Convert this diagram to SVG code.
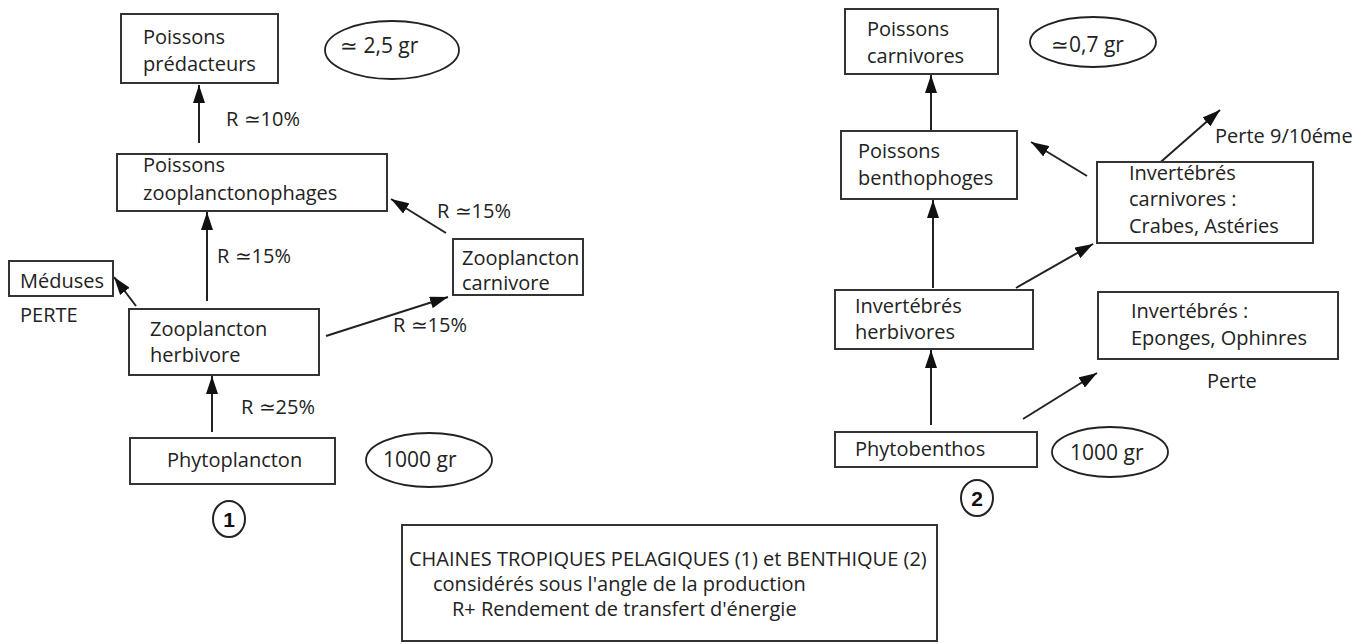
<svg xmlns="http://www.w3.org/2000/svg" width="1354" height="644" viewBox="0 0 1354 644">
<defs>
<style>
.box{fill:#fff;stroke:#333;stroke-width:2}
.ell{fill:#fff;stroke:#222;stroke-width:1.8}
.t{font-family:"Open Sans","Liberation Sans",sans-serif;font-size:20px;fill:#222}
.te{font-family:"Open Sans","Liberation Sans",sans-serif;font-size:21px;fill:#222}
.num{font-family:"Liberation Sans",Arial,sans-serif;font-size:21px;font-weight:bold;fill:#111}
.c{fill:none;stroke:#222;stroke-width:2}
.cl line{stroke:#222;stroke-width:2;marker-end:url(#ah)}
</style>
<marker id="ah" viewBox="0 0 18 12" refX="18" refY="6" markerWidth="18" markerHeight="12" markerUnits="userSpaceOnUse" orient="auto">
<path d="M0,0 L18,6 L0,12 z" fill="#111"/>
</marker>
</defs>
<rect width="1354" height="644" fill="#fff"/>

<g id="connectors" class="cl">
<line x1="199" y1="143" x2="199" y2="85"/>
<line x1="207" y1="301" x2="207" y2="212"/>
<line x1="212" y1="432" x2="212" y2="376"/>
<line x1="136" y1="306" x2="114" y2="277"/>
<line x1="326" y1="336" x2="448" y2="297"/>
<line x1="446" y1="233" x2="391" y2="199"/>
<line x1="931" y1="131" x2="931" y2="75"/>
<line x1="933" y1="288" x2="933" y2="200"/>
<line x1="931" y1="425" x2="931" y2="350"/>
<line x1="1087" y1="176" x2="1031" y2="142"/>
<line x1="1155" y1="167" x2="1220" y2="110"/>
<line x1="1016" y1="288" x2="1093" y2="244"/>
<line x1="1023" y1="419" x2="1097" y2="373"/>
</g>

<g id="labels" class="t">
<text x="226" y="126">R ≃10%</text>
<text x="437" y="218">R ≃15%</text>
<text x="217" y="263">R ≃15%</text>
<text x="393" y="332">R ≃15%</text>
<text x="241" y="414">R ≃25%</text>
<text x="20" y="322">PERTE</text>
<text x="1215" y="143">Perte 9/10éme</text>
<text x="1207" y="388">Perte</text>
</g>

<g id="n-predateurs">
<rect class="box" x="121" y="14" width="157" height="69"/>
<text class="t" x="143" y="44">Poissons</text>
<text class="t" x="143" y="71">prédacteurs</text>
</g>
<g id="n-e25">
<ellipse class="ell" cx="392" cy="50" rx="67" ry="29"/>
<text class="te" x="340" y="53">≃ 2,5 gr</text>
</g>
<g id="n-zooplanctonophages">
<rect class="box" x="117" y="154" width="270" height="57"/>
<text class="t" x="143" y="172">Poissons</text>
<text class="t" x="143" y="200">zooplanctonophages</text>
</g>
<g id="n-zoocarn">
<rect class="box" x="453" y="239" width="130" height="56"/>
<text class="t" x="462" y="265">Zooplancton</text>
<text class="t" x="462" y="290">carnivore</text>
</g>
<g id="n-meduses">
<rect class="box" x="9" y="261" width="104" height="35"/>
<text class="t" x="20" y="288">Méduses</text>
</g>
<g id="n-zooherb">
<rect class="box" x="129" y="309" width="190" height="66"/>
<text class="t" x="150" y="336">Zooplancton</text>
<text class="t" x="150" y="362">herbivore</text>
</g>
<g id="n-phyto">
<rect class="box" x="130" y="438" width="205" height="46"/>
<text class="t" x="167" y="467">Phytoplancton</text>
</g>
<g id="n-e1000a">
<ellipse class="ell" cx="429" cy="460" rx="63" ry="27"/>
<text class="te" x="383" y="467">1000 gr</text>
</g>
<g id="n-c1">
<ellipse class="c" cx="229" cy="519" rx="16" ry="18"/>
<text class="num" x="229" y="527" text-anchor="middle">1</text>
</g>

<g id="n-carnivores">
<rect class="box" x="845" y="9" width="153" height="65"/>
<text class="t" x="867" y="36">Poissons</text>
<text class="t" x="867" y="63">carnivores</text>
</g>
<g id="n-e07">
<ellipse class="ell" cx="1093" cy="42" rx="63" ry="25"/>
<text class="te" x="1051" y="52">≃0,7 gr</text>
</g>
<g id="n-benthophoges">
<rect class="box" x="841" y="131" width="176" height="68"/>
<text class="t" x="858" y="158">Poissons</text>
<text class="t" x="858" y="185">benthophoges</text>
</g>
<g id="n-invcarn">
<rect class="box" x="1097" y="162" width="216" height="81"/>
<text class="t" x="1129" y="180">Invertébrés</text>
<text class="t" x="1129" y="206">carnivores :</text>
<text class="t" x="1129" y="233">Crabes, Astéries</text>
</g>
<g id="n-invherb">
<rect class="box" x="835" y="290" width="198" height="59"/>
<text class="t" x="855" y="313">Invertébrés</text>
<text class="t" x="855" y="339">herbivores</text>
</g>
<g id="n-eponges">
<rect class="box" x="1098" y="292" width="240" height="67"/>
<text class="t" x="1131" y="318">Invertébrés :</text>
<text class="t" x="1131" y="345">Eponges, Ophinres</text>
</g>
<g id="n-phytobenthos">
<rect class="box" x="835" y="432" width="202" height="35"/>
<text class="t" x="855" y="456">Phytobenthos</text>
</g>
<g id="n-e1000b">
<ellipse class="ell" cx="1110" cy="452" rx="58" ry="25"/>
<text class="te" x="1070" y="460">1000 gr</text>
</g>
<g id="n-c2">
<ellipse class="c" cx="977" cy="498" rx="16" ry="18"/>
<text class="num" x="977" y="506" text-anchor="middle">2</text>
</g>

<g id="n-legend">
<rect class="box" x="402" y="525" width="535" height="116"/>
<text class="t" x="409" y="566">CHAINES TROPIQUES PELAGIQUES (1)  et BENTHIQUE (2)</text>
<text class="t" x="433" y="591">considérés sous l'angle de la production</text>
<text class="t" x="452" y="616">R+ Rendement de transfert d'énergie</text>
</g>
</svg>
